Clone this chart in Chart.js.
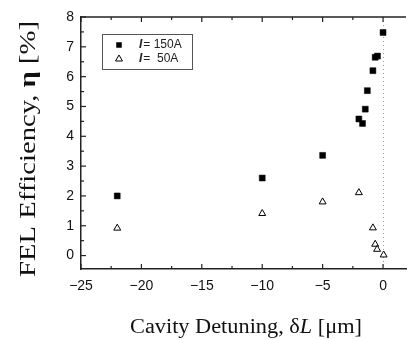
<!DOCTYPE html>
<html>
<head>
<meta charset="utf-8">
<script src="https://cdn.jsdelivr.net/npm/chart.js@4/dist/chart.umd.min.js"></script>
<style>
html,body{margin:0;padding:0;background:#fff;}
#wrap{width:411px;height:340px;position:relative;}
</style>
</head>
<body>
<div id="wrap"><canvas id="c" width="411" height="340"></canvas></div>
<script>
// ---- data ----
const detuningHigh = [-22, -10, -5, -2, -1.7, -1.47, -1.3, -0.84, -0.65, -0.46, 0];
const efficiencyHigh = [2.0, 2.6, 3.36, 4.58, 4.43, 4.91, 5.53, 6.2, 6.65, 6.69, 7.48];
const detuningLow = [-22, -10, -5, -2, -0.84, -0.65, -0.49, 0.05];
const efficiencyLow = [0.92, 1.41, 1.8, 2.11, 0.93, 0.38, 0.21, 0.02];
const seriesLabels = ['I= 150A', 'I=  50A'];
const xTitle = 'Cavity Detuning, δL [μm]';
const yTitle = 'FEL Efficiency, η [%]';

const toPts = (xs, ys) => xs.map((x, i) => ({x: x, y: ys[i]}));
const fmt = v => (v < 0 ? '\u2212' + Math.abs(v) : String(v));

const decor = {
  id: 'decor',
  beforeDatasetsDraw(chart) {
    const {ctx, chartArea: a, scales: {x}} = chart;
    ctx.save();
    const x0 = x.getPixelForValue(0);
    ctx.strokeStyle = '#999';
    ctx.lineWidth = 1;
    ctx.setLineDash([1, 3]);
    ctx.beginPath();
    ctx.moveTo(x0 + 0.5, a.top);
    ctx.lineTo(x0 + 0.5, a.bottom);
    ctx.stroke();
    ctx.setLineDash([]);
    ctx.restore();
  },
  afterDraw(chart) {
    const {ctx, chartArea: a, scales: {x, y}} = chart;
    ctx.save();
    ctx.strokeStyle = '#222';
    ctx.lineWidth = 1.5;
    ctx.beginPath();
    ctx.moveTo(a.left, a.top);
    ctx.lineTo(a.right, a.top);
    ctx.stroke();
    ctx.lineWidth = 1.2;
    for (let v = -25; v <= 1.9; v += 2.5) {
      const px = x.getPixelForValue(v);
      const len = (Math.abs(v % 5) < 1e-9) ? 5 : 3;
      ctx.beginPath();
      ctx.moveTo(px, a.bottom); ctx.lineTo(px, a.bottom - len);
      ctx.moveTo(px, a.top); ctx.lineTo(px, a.top + len);
      ctx.stroke();
    }
    for (let v = 0; v <= 8; v += 0.5) {
      const py = y.getPixelForValue(v);
      const len = (Math.abs(v % 1) < 1e-9) ? 5 : 3;
      ctx.beginPath();
      ctx.moveTo(a.left, py); ctx.lineTo(a.left + len, py);
      ctx.stroke();
    }
    // legend
    const lx = 102, ly = 34, lw = 90, lh = 35;
    ctx.strokeStyle = '#555';
    ctx.lineWidth = 1;
    ctx.strokeRect(lx + 0.5, ly + 0.5, lw, lh);
    const rows = [ly + 11, ly + 25];
    ctx.fillStyle = '#000';
    const s = 5.5;
    ctx.fillRect(119 - s / 2, rows[0] - s / 2, s, s);
    ctx.beginPath();
    const r = 4;
    ctx.moveTo(119, rows[1] - r);
    ctx.lineTo(119 + r * Math.sin(2 * Math.PI / 3), rows[1] + r / 2);
    ctx.lineTo(119 - r * Math.sin(2 * Math.PI / 3), rows[1] + r / 2);
    ctx.closePath();
    ctx.strokeStyle = '#000';
    ctx.stroke();
    ctx.fillStyle = '#222';
    ctx.textBaseline = 'middle';
    ctx.textAlign = 'left';
    seriesLabels.forEach((lab, i) => {
      let tx = 139;
      ctx.font = 'italic bold 12px "Liberation Sans"';
      ctx.fillText(lab[0], tx, rows[i]);
      tx += ctx.measureText(lab[0]).width + 1;
      ctx.font = '12px "Liberation Sans"';
      ctx.fillText(lab.slice(1), tx, rows[i]);
    });
    // axis titles (stretched along text direction to fit target length)
    const drawSegs = (segs, cx, cy, rot, target) => {
      let total = 0;
      segs.forEach(sg => { ctx.font = sg[1]; total += ctx.measureText(sg[0]).width; });
      ctx.save();
      ctx.translate(cx, cy);
      ctx.rotate(rot);
      ctx.scale(target / total, 1);
      let tx = -total / 2;
      segs.forEach(sg => {
        ctx.font = sg[1];
        ctx.fillText(sg[0], tx, 0);
        tx += ctx.measureText(sg[0]).width;
      });
      ctx.restore();
    };
    ctx.fillStyle = '#111';
    ctx.textBaseline = 'alphabetic';
    const fx = '20px "Liberation Serif"';
    const ix = xTitle.indexOf('L');
    drawSegs([[xTitle.slice(0, ix), fx], ['L', 'italic ' + fx], [xTitle.slice(ix + 1), fx]], 246, 333, 0, 232);
    const fy = '23px "Liberation Serif"';
    const iy = yTitle.indexOf('η');
    drawSegs([[yTitle.slice(0, iy), fy], ['η', 'bold ' + fy], [yTitle.slice(iy + 1), fy]], 35, 149, -Math.PI / 2, 256);
    ctx.restore();
  }
};

new Chart(document.getElementById('c'), {
  type: 'scatter',
  data: {
    datasets: [
      {
        label: seriesLabels[0],
        data: toPts(detuningHigh, efficiencyHigh),
        pointStyle: 'rect',
        pointRadius: 4.2,
        backgroundColor: '#000',
        borderColor: '#000',
        borderWidth: 0.5
      },
      {
        label: seriesLabels[1],
        data: toPts(detuningLow, efficiencyLow),
        pointStyle: 'triangle',
        pointRadius: 4,
        backgroundColor: '#fff',
        borderColor: '#000',
        borderWidth: 1
      }
    ]
  },
  options: {
    responsive: false,
    devicePixelRatio: 1,
    animation: false,
    layout: {padding: {left: 0, top: 17, right: 0, bottom: 0}},
    plugins: {legend: {display: false}, tooltip: {enabled: false}},
    elements: {point: {hoverRadius: 4}},
    scales: {
      x: {
        type: 'linear',
        min: -25,
        max: 1.9,
        afterFit: s => { s.height = 71; },
        grid: {display: false, drawTicks: false},
        border: {display: true, color: '#222', width: 1.5},
        ticks: {
          stepSize: 5,
          includeBounds: false,
          padding: 9,
          color: '#111',
          font: {family: '"Liberation Sans"', size: 14},
          callback: v => fmt(v),
          maxRotation: 0
        }
      },
      y: {
        type: 'linear',
        min: -0.45,
        max: 8,
        afterFit: s => { s.width = 81; },
        grid: {display: false, drawTicks: false},
        border: {display: true, color: '#222', width: 1.5},
        ticks: {
          stepSize: 1,
          includeBounds: false,
          padding: 7,
          color: '#111',
          font: {family: '"Liberation Sans"', size: 14},
          callback: v => fmt(v)
        }
      }
    }
  },
  plugins: [decor]
});
</script>
</body>
</html>
